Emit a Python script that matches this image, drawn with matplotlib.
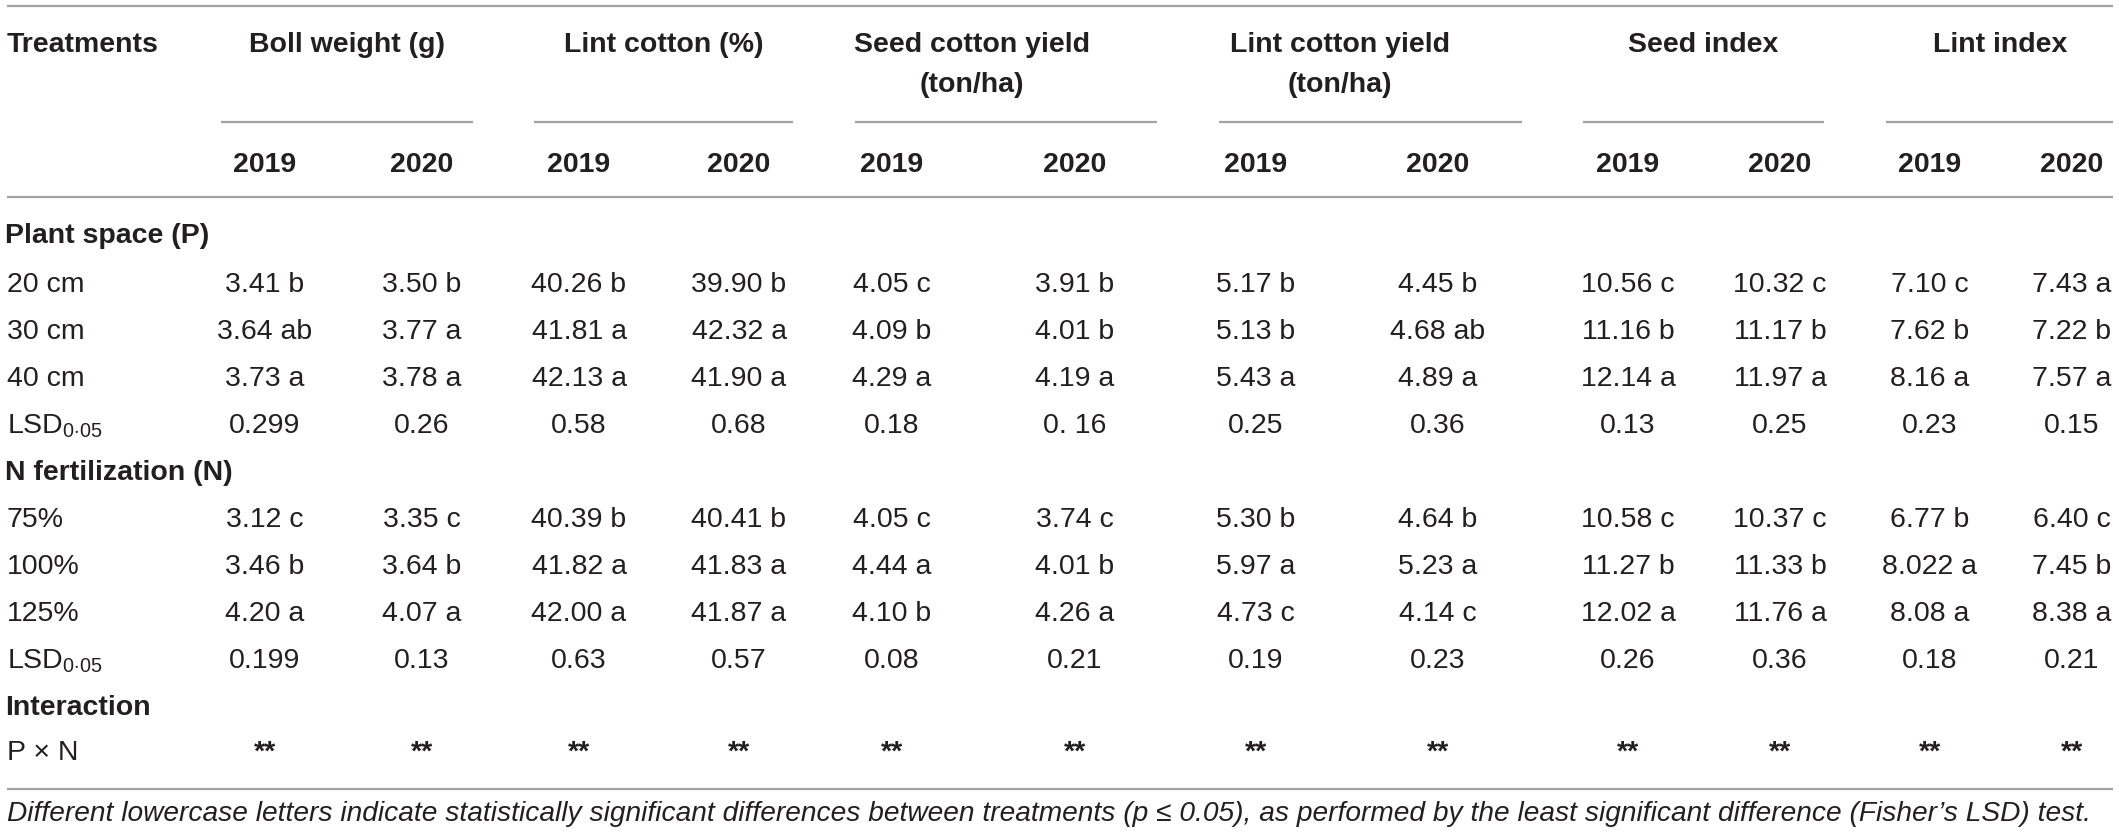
import matplotlib
matplotlib.use("Agg")
import matplotlib.pyplot as plt

plt.rcParams['font.family'] = ['Liberation Sans', 'DejaVu Sans']
plt.rcParams['mathtext.fontset'] = 'custom'
plt.rcParams['mathtext.rm'] = 'Liberation Sans'
plt.rcParams['mathtext.it'] = 'Liberation Sans:italic'
plt.rcParams['mathtext.bf'] = 'Liberation Sans:bold'

# table content
groups = ["Boll weight (g)", "Lint cotton (%)", "Seed cotton yield\n(ton/ha)",
          "Lint cotton yield\n(ton/ha)", "Seed index", "Lint index"]
years = ["2019", "2020"]
first_col = "Treatments"

space_head = "Plant space (P)"
space_rows = ["20 cm", "30 cm", "40 cm"]
space_vals = [
    ["3.41 b", "3.50 b", "40.26 b", "39.90 b", "4.05 c", "3.91 b", "5.17 b", "4.45 b", "10.56 c", "10.32 c", "7.10 c", "7.43 a"],
    ["3.64 ab", "3.77 a", "41.81 a", "42.32 a", "4.09 b", "4.01 b", "5.13 b", "4.68 ab", "11.16 b", "11.17 b", "7.62 b", "7.22 b"],
    ["3.73 a", "3.78 a", "42.13 a", "41.90 a", "4.29 a", "4.19 a", "5.43 a", "4.89 a", "12.14 a", "11.97 a", "8.16 a", "7.57 a"],
]
space_lsd = ["0.299", "0.26", "0.58", "0.68", "0.18", "0. 16", "0.25", "0.36", "0.13", "0.25", "0.23", "0.15"]

n_head = "N fertilization (N)"
n_rows = ["75%", "100%", "125%"]
n_vals = [
    ["3.12 c", "3.35 c", "40.39 b", "40.41 b", "4.05 c", "3.74 c", "5.30 b", "4.64 b", "10.58 c", "10.37 c", "6.77 b", "6.40 c"],
    ["3.46 b", "3.64 b", "41.82 a", "41.83 a", "4.44 a", "4.01 b", "5.97 a", "5.23 a", "11.27 b", "11.33 b", "8.022 a", "7.45 b"],
    ["4.20 a", "4.07 a", "42.00 a", "41.87 a", "4.10 b", "4.26 a", "4.73 c", "4.14 c", "12.02 a", "11.76 a", "8.08 a", "8.38 a"],
]
n_lsd = ["0.199", "0.13", "0.63", "0.57", "0.08", "0.21", "0.19", "0.23", "0.26", "0.36", "0.18", "0.21"]

inter_head = "Interaction"
inter_row = "P \u00d7 N"
inter_vals = ["**"] * 12

lsd_label = r"LSD$_{0{\cdot}05}$"
footnote = ("Different lowercase letters indicate statistically significant differences between "
            "treatments (p \u2264 0.05), as performed by the least significant difference "
            "(Fisher\u2019s LSD) test.")

# layout (pixels)
W, H = 2119, 838
col_x = [265, 422, 579, 739, 892, 1075, 1256, 1438, 1628, 1780, 1930, 2072]
head_x = [347, 664, 972, 1340, 1703, 2000]
spans = [(221, 473), (534, 793), (855, 1157), (1219, 1522), (1583, 1824), (1886, 2113)]
left = 7
right = 2113
row_h = 47
fs = 20.5
ink = '#231f20'
rule = '#a3a3a3'
half_cap = 10

fig = plt.figure(figsize=(W / 100, H / 100), dpi=100)
ax = fig.add_axes([0, 0, 1, 1])
ax.set_xlim(0, W)
ax.set_ylim(H, 0)
ax.axis('off')


def put(x, y, s, ha='center', **kw):
    ax.text(x, y + half_cap, s, ha=ha, va='baseline', fontsize=fs, color=ink, **kw)


def hline(y, x0=left, x1=right):
    ax.plot([x0, x1], [y, y], color=rule, lw=1.6, solid_capstyle='butt')


# header
hline(6)
put(left, 42, first_col, ha='left', fontweight='bold')
for g, hx in zip(groups, head_x):
    for k, line in enumerate(g.split("\n")):
        put(hx, 42 + 40 * k, line, fontweight='bold')
for x0, x1 in spans:
    hline(122, x0, x1)
for i, cx in enumerate(col_x):
    put(cx, 162, years[i % 2], fontweight='bold')
hline(197)

# body
y = 233
for head, gap, names, vals, lsd in [(space_head, 49, space_rows, space_vals, space_lsd),
                                    (n_head, 47, n_rows, n_vals, n_lsd)]:
    put(5, y, head, ha='left', fontweight='bold')
    y += gap
    for name, row in zip(names, vals):
        put(left, y, name, ha='left')
        for cx, v in zip(col_x, row):
            put(cx, y, v)
        y += row_h
    put(left, y, lsd_label, ha='left')
    for cx, v in zip(col_x, lsd):
        put(cx, y, v)
    y += row_h

put(5, y, inter_head, ha='left', fontweight='bold')
y += row_h - 2
put(left, y, inter_row, ha='left')
for cx, v in zip(col_x, inter_vals):
    put(cx, y, v, fontweight='bold')

hline(789)

# footnote, fitted to the table width
fn = ax.text(left, 811 + half_cap, footnote, ha='left', va='baseline', fontsize=fs,
             style='italic', color=ink)
r = fig.canvas.get_renderer()
w = fn.get_window_extent(r).width
fn.set_fontsize(fs * (2088 - left) / w)

fig.savefig("out.png", dpi=100)
